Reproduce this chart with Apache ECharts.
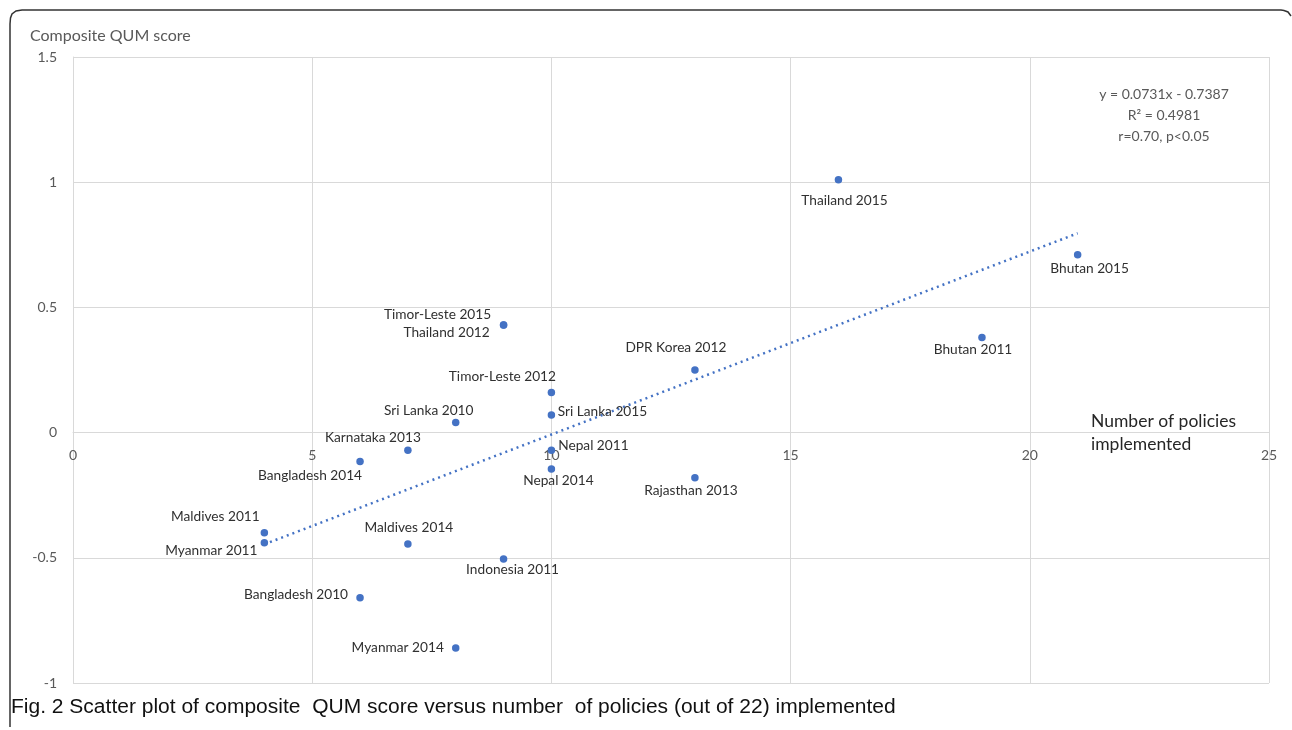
<!DOCTYPE html>
<html>
<head>
<meta charset="utf-8">
<script src="https://cdn.jsdelivr.net/npm/echarts@6/dist/echarts.min.js"></script>
<style>
html,body{margin:0;padding:0;background:#fff;}
#chart{width:1292px;height:730px;}
</style>
</head>
<body>
<div id="chart"></div>
<script>
// ---- data ----
var names = ['Thailand 2015','Bhutan 2015','Bhutan 2011','DPR Korea 2012','Timor-Leste 2015','Thailand 2012',
  'Timor-Leste 2012','Sri Lanka 2015','Sri Lanka 2010','Karnataka 2013','Bangladesh 2014','Nepal 2011',
  'Nepal 2014','Rajasthan 2013','Maldives 2011','Myanmar 2011','Maldives 2014','Indonesia 2011',
  'Bangladesh 2010','Myanmar 2014'];
var policies = [16, 21, 19, 13, 9, 9, 10, 10, 8, 7, 6, 10, 10, 13, 4, 4, 7, 9, 6, 8];
var qumScore = [1.01, 0.71, 0.38, 0.25, 0.43, 0.43, 0.16, 0.07, 0.04, -0.07, -0.115, -0.07,
  -0.145, -0.18, -0.40, -0.44, -0.445, -0.505, -0.66, -0.86];
var trendX = [4, 21];
var trendY = [-0.446, 0.796];
var xTicks = [0, 5, 10, 15, 20, 25];
var yTicks = [-1, -0.5, 0, 0.5, 1, 1.5];

// ---- label placement (offset of label centre from point, px) ----
var labelOffsets = [[6,21],[12,14],[-9,12],[-19,-22],[-66,-10],[-57,8],[-49,-16],[51,-3],[-27,-12],[-35,-13],
  [-50,14],[42,-5],[7,12],[-4,13],[-49,-16],[-53,8],[1,-16],[9,11],[-64,-3],[-58,0]];

var FONT = 'Lato';
var points = names.map(function (n, i) {
  return { name: n, value: [policies[i], qumScore[i]] };
});
var trend = trendX.map(function (x, i) { return [x, trendY[i]]; });

var chart = echarts.init(document.getElementById('chart'), null, {renderer: 'canvas'});
chart.setOption({
  animation: false,
  backgroundColor: '#ffffff',
  grid: { left: 73, right: 23, top: 57, bottom: 47, containLabel: false },
  title: {
    text: 'Composite QUM score', left: 25, top: 23,
    textStyle: { fontFamily: FONT, fontSize: 16, fontWeight: 'normal', color: '#595959' }
  },
  xAxis: {
    type: 'value', min: 0, max: 25, interval: 5,
    position: 'bottom', offset: -250.5,
    axisLine: { show: true, onZero: false, lineStyle: { color: '#d9d9d9', width: 1 } },
    axisTick: { show: false },
    axisLabel: { fontFamily: FONT, fontSize: 14, color: '#595959', margin: 16,
      formatter: function (v) { return xTicks.indexOf(v) >= 0 ? String(v) : ''; } },
    splitLine: { show: true, lineStyle: { color: '#d9d9d9', width: 1 } }
  },
  yAxis: {
    type: 'value', min: -1, max: 1.5, interval: 0.5,
    axisLine: { show: true, onZero: false, lineStyle: { color: '#d9d9d9' } },
    axisTick: { show: false },
    axisLabel: { fontFamily: FONT, fontSize: 14, color: '#595959', margin: 16,
      formatter: function (v) { return yTicks.indexOf(v) >= 0 ? String(v) : ''; } },
    splitLine: { show: true, lineStyle: { color: '#d9d9d9', width: 1 } }
  },
  series: [
    {
      type: 'line',
      data: trend,
      symbol: 'none',
      silent: true,
      lineStyle: { color: '#4472C4', width: 2.5, type: [2, 4] },
      z: 2
    },
    {
      type: 'scatter',
      data: points,
      symbolSize: 7.5,
      itemStyle: { color: '#4472C4', opacity: 1 },
      label: {
        show: true, position: 'inside', align: 'center', verticalAlign: 'middle',
        formatter: function (p) { return p.name; },
        fontFamily: FONT, fontSize: 13.7, color: '#303030'
      },
      labelLayout: function (params) {
        var o = labelOffsets[params.dataIndex];
        return { dx: o[0], dy: o[1], hideOverlap: false };
      },
      z: 3
    }
  ],
  graphic: [
    {
      type: 'text', x: 1164, y: 87,
      style: { text: 'y = 0.0731x - 0.7387', font: '14px ' + FONT, fill: '#595959', align: 'center' }
    },
    {
      type: 'text', x: 1164, y: 108,
      style: { text: 'R² = 0.4981', font: '14px ' + FONT, fill: '#595959', align: 'center' }
    },
    {
      type: 'text', x: 1164, y: 129,
      style: { text: 'r=0.70, p<0.05', font: '14px ' + FONT, fill: '#595959', align: 'center' }
    },
    {
      type: 'text', left: 1091, top: 410,
      style: { text: 'Number of policies\nimplemented', font: '17.5px ' + FONT, fill: '#262626', lineHeight: 23 }
    },
    {
      type: 'text', x: 11, y: 697, scaleX: 1.05,
      style: { text: 'Fig. 2 Scatter plot of composite  QUM score versus number  of policies (out of 22) implemented',
        font: '20px "Liberation Sans", Arial', fill: '#111111' }
    },
    {
      type: 'polyline',
      shape: { points: [[1291,16],[1288,12],[1284,10.5],[1281,10],[22,10],[16,11],[12,14],[10.5,18],[10,24],[10,727]] },
      style: { stroke: '#333333', lineWidth: 1.5, fill: null }
    }
  ]
});
</script>
</body>
</html>
